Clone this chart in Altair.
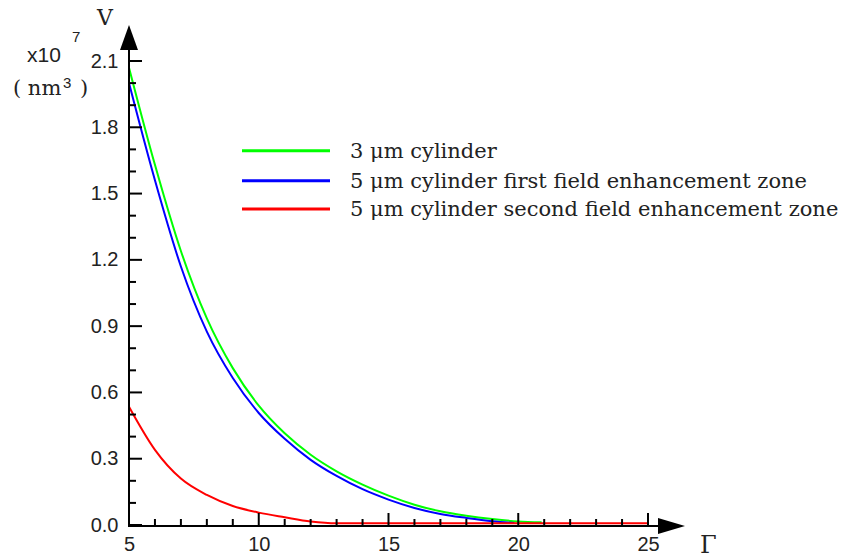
import altair as alt
import pandas as pd

# ---------------- data ----------------
series_names = [
    "3 μm cylinder",
    "5 μm cylinder first field enhancement zone",
    "5 μm cylinder second field enhancement zone",
]
series_colors = ["#00ff00", "#0000ff", "#ff0000"]

green_gamma = [5, 6, 7, 8, 9, 10, 11, 12, 13, 14, 15, 16, 17, 18, 19, 20, 20.9]
green_v = [2.07, 1.63, 1.24, 0.935, 0.71, 0.54, 0.415, 0.318, 0.243, 0.183, 0.133,
           0.092, 0.062, 0.042, 0.027, 0.016, 0.012]

blue_gamma = [5, 6, 7, 8, 9, 10, 11, 12, 13, 14, 15, 16, 17, 18, 19, 19.85]
blue_v = [2.0, 1.56, 1.17, 0.875, 0.665, 0.507, 0.39, 0.295, 0.222, 0.162, 0.115,
          0.077, 0.05, 0.032, 0.017, 0.009]

red_gamma = [5, 6, 7, 8, 9, 10, 11, 12, 13, 25]
red_v = [0.535, 0.34, 0.21, 0.136, 0.086, 0.056, 0.035, 0.016, 0.008, 0.008]

y_major = [0.0, 0.3, 0.6, 0.9, 1.2, 1.5, 1.8, 2.1]
y_minor = [0.1, 0.2, 0.4, 0.5, 0.7, 0.8, 1.0, 1.1, 1.3, 1.4, 1.6, 1.7, 1.9, 2.0]
x_major = [5, 10, 15, 20, 25]
x_minor = [6, 7, 8, 9, 11, 12, 13, 14, 16, 17, 18, 19, 21, 22, 23, 24]

# ---------------- build tables ----------------
rows = []
for name, gs, vs in zip(series_names, [green_gamma, blue_gamma, red_gamma],
                        [green_v, blue_v, red_v]):
    for g, v in zip(gs, vs):
        rows.append({"series": name, "gamma": g, "V": v})
df = pd.DataFrame(rows)

W, H = 519, 464
SANS = "Liberation Sans"
SERIF = "DejaVu Serif"
TXT = "#222222"

xscale = alt.Scale(domain=[5, 25], nice=False, zero=False)
yscale = alt.Scale(domain=[0, 2.1], nice=False, zero=False)

xaxis = alt.Axis(values=x_major, format="d", domain=False, ticks=False, tickSize=0,
                 grid=False, title=None, labelFont=SANS, labelFontSize=20,
                 labelColor=TXT, labelPadding=9, labelFlush=False, labelOverlap=False)
yaxis = alt.Axis(values=y_major, format=".1f", domain=False, ticks=False, tickSize=0,
                 grid=False, title=None, labelFont=SANS, labelFontSize=20,
                 labelColor=TXT, labelPadding=11, labelFlush=False, labelOverlap=False)

lines = alt.Chart(df).mark_line(strokeWidth=2, interpolate="monotone").encode(
    x=alt.X("gamma:Q", scale=xscale, axis=xaxis),
    y=alt.Y("V:Q", scale=yscale, axis=yaxis),
    color=alt.Color("series:N", scale=alt.Scale(domain=series_names, range=series_colors),
                    legend=None),
    order=alt.Order("gamma:Q"),
)

# axis lines
yline = alt.Chart(pd.DataFrame({"a": [0]})).mark_rule(color="black", strokeWidth=2).encode(
    x=alt.value(0), y=alt.value(H + 1), y2=alt.value(-11))
xline = alt.Chart(pd.DataFrame({"a": [0]})).mark_rule(color="black", strokeWidth=2).encode(
    x=alt.value(-1), x2=alt.value(529), y=alt.value(H + 1))

# arrowheads
yarrow = alt.Chart(pd.DataFrame({"a": [0]})).mark_point(
    shape="M0,-1L0.72,1L-0.72,1Z", size=625, filled=True, color="black", opacity=1
).encode(x=alt.value(0), y=alt.value(-23.5))
xarrow = alt.Chart(pd.DataFrame({"a": [0]})).mark_point(
    shape="M1,0L-1,-0.6L-1,0.6Z", size=729, filled=True, color="black", opacity=1
).encode(x=alt.value(542.5), y=alt.value(H + 1))

# ticks (inside)
ymaj = alt.Chart(pd.DataFrame({"t": y_major})).mark_rule(color="black", strokeWidth=2).encode(
    y=alt.Y("t:Q", scale=yscale, axis=yaxis), x=alt.value(0), x2=alt.value(13))
ymin = alt.Chart(pd.DataFrame({"t": y_minor})).mark_rule(color="black", strokeWidth=2).encode(
    y=alt.Y("t:Q", scale=yscale, axis=yaxis), x=alt.value(0), x2=alt.value(7))
xmaj = alt.Chart(pd.DataFrame({"t": x_major})).mark_rule(color="black", strokeWidth=2).encode(
    x=alt.X("t:Q", scale=xscale, axis=xaxis), y=alt.value(H + 1), y2=alt.value(H - 12))
xmin = alt.Chart(pd.DataFrame({"t": x_minor})).mark_rule(color="black", strokeWidth=2).encode(
    x=alt.X("t:Q", scale=xscale, axis=xaxis), y=alt.value(H + 1), y2=alt.value(H - 6))


def label(text, x, y, font, size):
    return alt.Chart(pd.DataFrame({"label": [text]})).mark_text(
        font=font, fontSize=size, color=TXT, align="left", baseline="alphabetic"
    ).encode(x=alt.value(x), y=alt.value(y), text="label:N")


annots = [
    label("V", -32, -36, SERIF, 22),
    label("x10", -102, 1, SANS, 21),
    label("7", -57, -19, SANS, 15),
    label("( nm", -116, 34, SERIF, 21),
    label("3", -66, 27, SANS, 15),
    label(")", -49, 34, SERIF, 21),
    label("Γ", 571, 492, SERIF, 24),
]

# legend
legend_rows = [89.7, 119.7, 148.0]
legend_layers = []
for name, col, yy in zip(series_names, series_colors, legend_rows):
    legend_layers.append(
        alt.Chart(pd.DataFrame({"label": [name]})).mark_rule(strokeWidth=3, color=col).encode(
            x=alt.value(113), x2=alt.value(201), y=alt.value(yy)))
    legend_layers.append(label(name, 221, yy + 7, SERIF, 21))

chart = alt.layer(
    lines, yline, xline, ymin, ymaj, xmin, xmaj, yarrow, xarrow, *annots, *legend_layers
).properties(
    width=W, height=H,
    padding={"left": 121, "top": 53, "right": 195, "bottom": 40},
    autosize=alt.AutoSizeParams(type="none"),
    background="white",
).configure_view(stroke=None)

chart.save("out.html", embed_options={"renderer": "svg", "actions": False})
